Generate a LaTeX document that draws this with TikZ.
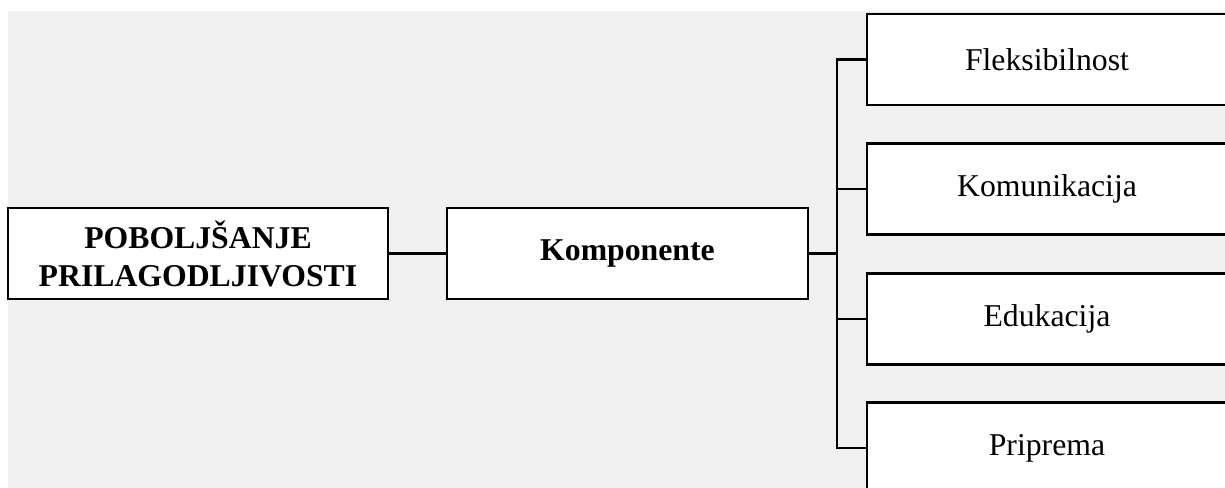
\documentclass[tikz,border=0pt]{standalone}
\usepackage{fontspec}
\setmainfont{Liberation Serif}
\definecolor{pozadina}{RGB}{241,241,241}
\begin{document}
\begin{tikzpicture}[x=0.75pt,y=-0.75pt]
		\useasboundingbox (0,0) rectangle (1225,488);
		\fill[pozadina] (8,11) rectangle (1225,488);
		\begin{scope}[every node/.style={rectangle, draw, line width=1.8pt, fill=white, inner sep=0pt, align=center, minimum height=68.5pt, font=\fontsize{23.8}{28.5}\selectfont}]
			\node[minimum width=285pt, font=\fontsize{23.8}{28.5}\selectfont\bfseries] (P) at (198,253.5) {POBOLJŠANJE\\PRILAGODLJIVOSTI};
			\node[minimum width=270.75pt, font=\fontsize{23.8}{28.5}\selectfont\bfseries] (K) at (627.5,253.5) {Komponente};
			\node[minimum width=270pt] (F) at (1047,59.5) {Fleksibilnost};
			\node[minimum width=270pt] (Ko) at (1047,189) {Komunikacija};
			\node[minimum width=270pt] (E) at (1047,319) {Edukacija};
			\node[minimum width=270pt] (Pr) at (1047,448) {Priprema};
		\end{scope}
		\coordinate (T) at (837,253.5);
		\begin{scope}[line width=1.8pt]
			\draw (P) -- (K);
			\draw (K) -- (T);
			\draw (T) |- (F.west);
			\draw (T) |- (Ko.west);
			\draw (T) |- (E.west);
			\draw (T) |- (Pr.west);
		\end{scope}
	\end{tikzpicture}
\end{document}
